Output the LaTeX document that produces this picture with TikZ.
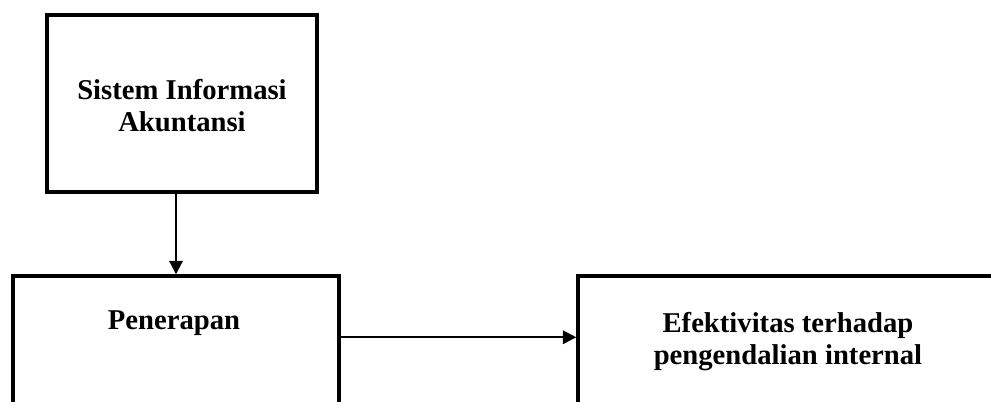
\documentclass[tikz,border=0pt]{standalone}
\usepackage{fontspec}
\setmainfont{Liberation Serif}
\usetikzlibrary{arrows.meta}
\begin{document}
\begin{tikzpicture}[x=0.75pt,y=-0.75pt,
  box/.style={draw=black,line width=2.6pt,rectangle,inner sep=0pt},
  lbl/.style={align=center,inner sep=0pt,font=\fontsize{21.5}{24}\selectfont\bfseries},
  link/.style={draw=black,line width=1.6pt,-{Triangle[length=10pt,width=10pt]}}]
  \useasboundingbox (0,0) rectangle (991,401);
  \fill[white] (0,0) rectangle (991,401);
  \clip (0,0) rectangle (991,401);
  % boxes (the lower two run past the bottom edge)
  \node[box,minimum width=202.5pt,minimum height=132.75pt] (sia) at (182,103.5) {};
  \node[box,minimum width=244.5pt,minimum height=135pt] (pen) at (176,366) {};
  \node[box,minimum width=315pt,minimum height=135pt] (eff) at (788,366) {};
  % labels
  \node[lbl] (siat) at (182,106) {Sistem Informasi\\Akuntansi};
  \node[lbl] (pent) at (174,323) {Penerapan};
  \node[lbl] (efft) at (788,342) {Efektivitas terhadap\\pengendalian internal};
  % connectors
  \draw[link] (sia.south -| pen.north) -- (pen.north);
  \draw[link] ([yshift=-47.25pt]pen.north east) -- ([yshift=-47.25pt]eff.north west);
\end{tikzpicture}
\end{document}
